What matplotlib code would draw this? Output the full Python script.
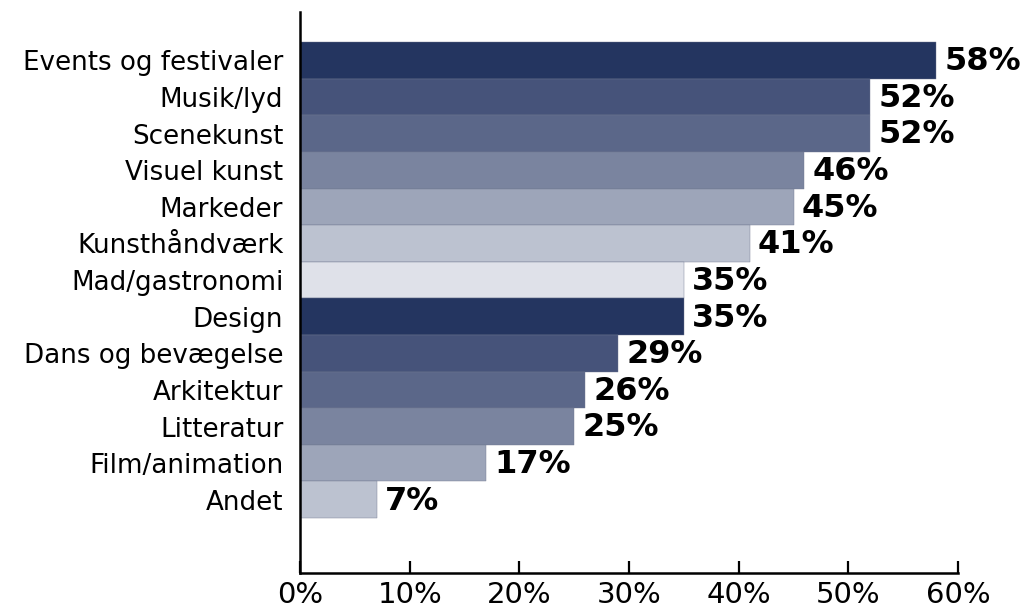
import numpy as np
import matplotlib.pyplot as plt

plt.rcParams['font.family'] = ['DejaVu Sans']

categories = ['Events og festivaler', 'Musik/lyd', 'Scenekunst', 'Visuel kunst',
              'Markeder', 'Kunsthåndværk', 'Mad/gastronomi', 'Design',
              'Dans og bevægelse', 'Arkitektur', 'Litteratur', 'Film/animation', 'Andet']
values = [58, 52, 52, 46, 45, 41, 35, 35, 29, 26, 25, 17, 7]
palette = ['#243560', '#46537a', '#5b6789', '#7a849f', '#9da5b9', '#bcc2d0', '#dfe1e9']
xticks = [0, 10, 20, 30, 40, 50, 60]

colors = [palette[i % len(palette)] for i in range(len(values))]
y = np.arange(len(values))

fig = plt.figure(figsize=(10.3, 6.09), dpi=100)
ax = fig.add_axes([0.2913, 0.0591, 0.6388, 0.9212])

ax.barh(y, values, height=1.0, color=colors, edgecolor='#6f7890', linewidth=0.3)

for yi, v in zip(y, values):
    ax.annotate(f'{v}%', (v, yi), xytext=(6, -1), textcoords='offset points',
                va='center', ha='left', fontsize=23, fontweight='bold', color='black')

ax.set_ylim(len(values) - 0.5 + 1.5, -0.5 - 0.82)
ax.set_xlim(0, 60)
ax.set_yticks(y, labels=categories, fontsize=18.8)
ax.set_xticks(xticks, labels=[f'{t}%' for t in xticks], fontsize=21)
ax.tick_params(axis='y', length=0, pad=12)
ax.tick_params(axis='x', direction='in', length=9, width=1.6, pad=6)

for s in ['top', 'right']:
    ax.spines[s].set_visible(False)
for s in ['left', 'bottom']:
    ax.spines[s].set_linewidth(1.8)

fig.savefig('out.png', dpi=100)
